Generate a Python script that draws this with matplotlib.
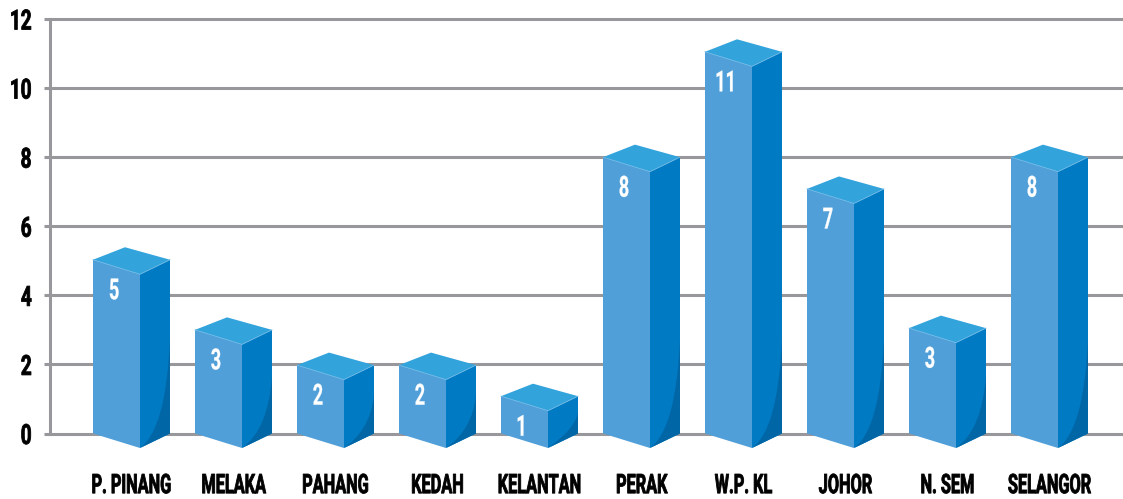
import matplotlib
matplotlib.use('Agg')
import matplotlib.pyplot as plt
import matplotlib.patheffects as pe
from matplotlib.patches import Polygon, PathPatch
from matplotlib.path import Path
from matplotlib.transforms import Affine2D

states = ['P. PINANG', 'MELAKA', 'PAHANG', 'KEDAH', 'KELANTAN',
          'PERAK', 'W.P. KL', 'JOHOR', 'N. SEM', 'SELANGOR']
values = [5, 3, 2, 2, 1, 8, 11, 7, 3, 8]
# bar tops as drawn, they are a bit off the printed number
heights = [5.03, 3.0, 1.98, 1.98, 1.08, 8.0, 11.05, 7.08, 3.05, 8.0]
yticks = [0, 2, 4, 6, 8, 10, 12]

W, H = 1123, 499
PX_X = 1 / 102.0   # one pixel in x data units
PX_Y = 1 / 34.5    # one pixel in y data units

FRONT = '#519fd8'
SIDE = '#007ac3'
TOP = '#33a3dc'
SHADE = '#0066a6'
GRID = '#98989c'
FONT = ['Roboto', 'DejaVu Sans']


# no condensed font here, so squeeze the glyphs sideways and thicken them a bit
class Squeeze(pe.AbstractPathEffect):
    def __init__(self, kx, ky=1.0, anchor=0.5, stroke=0.6):
        super().__init__()
        self.kx = kx
        self.ky = ky
        self.anchor = anchor
        self.stroke = stroke

    def draw_path(self, renderer, gc, tpath, affine, rgbFace=None):
        m = affine.get_matrix().copy()
        ext = tpath.get_extents()
        ref = ext.x0 + self.anchor * ext.width
        m[0, 2] += (1 - self.kx) * m[0, 0] * ref
        m[0, 0] *= self.kx
        m[1, 1] *= self.ky
        gc0 = renderer.new_gc()
        gc0.copy_properties(gc)
        gc0.set_linewidth(self.stroke)
        gc0.set_foreground(rgbFace)
        renderer.draw_path(gc0, tpath, Affine2D(m), rgbFace)
        gc0.restore()


fig = plt.figure(figsize=(W / 100, H / 100), dpi=100)
ax = fig.add_axes([50 / W, (H - 433.5) / H, 1 - 50 / W, (433.5 - 19) / H])
ax.set_xlim(-81.5 * PX_X, 991.5 * PX_X)
ax.set_ylim(0, 12)

ax.set_yticks(yticks)
ax.grid(axis='y', color=GRID, lw=2.2, zorder=1)
ax.set_axisbelow(True)
for s in ['top', 'right', 'bottom']:
    ax.spines[s].set_visible(False)
ax.spines['left'].set_color(GRID)
ax.spines['left'].set_linewidth(2.2)
ax.tick_params(axis='y', color=GRID, width=2.2, length=4.5, pad=8.5)
ax.tick_params(axis='x', length=0, pad=30)
for gl in ax.get_ygridlines():
    gl.set_clip_on(False)

ax.set_xticks(range(len(states)))
ax.set_xticklabels(states)
for lab in ax.get_yticklabels():
    lab.set(family=FONT, weight='bold', fontsize=20, color='black')
    lab.set_path_effects([Squeeze(0.68, anchor=1.0)])
for lab in ax.get_xticklabels():
    lab.set(family=FONT, weight='bold', fontsize=17, color='black')
    lab.set_path_effects([Squeeze(0.69, ky=1.14)])

for i, (h, v) in enumerate(zip(heights, values)):
    left = i - 38.5 * PX_X
    mid = left + 47 * PX_X
    right = mid + 30 * PX_X
    back = left + 32 * PX_X
    drop = 14.5 * PX_Y
    rise = 12.5 * PX_Y

    ax.add_patch(Polygon([(left, 0), (mid, -drop), (mid, h - drop), (left, h)],
                         fc=FRONT, ec='none', zorder=3, clip_on=False))
    ax.add_patch(Polygon([(mid, -drop), (right, 0), (right, h), (mid, h - drop)],
                         fc=SIDE, ec='none', zorder=3, clip_on=False))
    ax.add_patch(Polygon([(left, h), (back, h + rise), (right, h), (mid, h - drop)],
                         fc=TOP, ec='none', zorder=3, clip_on=False))
    ax.plot([left, mid, right], [h, h - drop, h], color='#6cb8e6', lw=0.6,
            zorder=4, clip_on=False)

    # dark curved shadow at the foot of the side face
    sh = min(0.55 * h, 94 * PX_Y)
    verts = [(mid, -drop), (right - 4 * PX_X, 0.1), (right, sh), (right, 0), (mid, -drop)]
    codes = [Path.MOVETO, Path.CURVE3, Path.CURVE3, Path.LINETO, Path.CLOSEPOLY]
    ax.add_patch(PathPatch(Path(verts, codes), fc=SHADE, ec='none', zorder=4, clip_on=False))

    t = ax.text(left + 21 * PX_X, h - 39.5 * PX_Y, str(v), color='white', ha='center',
                va='baseline', family=FONT, weight='bold', fontsize=21, zorder=5)
    t.set_path_effects([Squeeze(0.62, stroke=0.2)])

fig.savefig('out.png', dpi=100)
